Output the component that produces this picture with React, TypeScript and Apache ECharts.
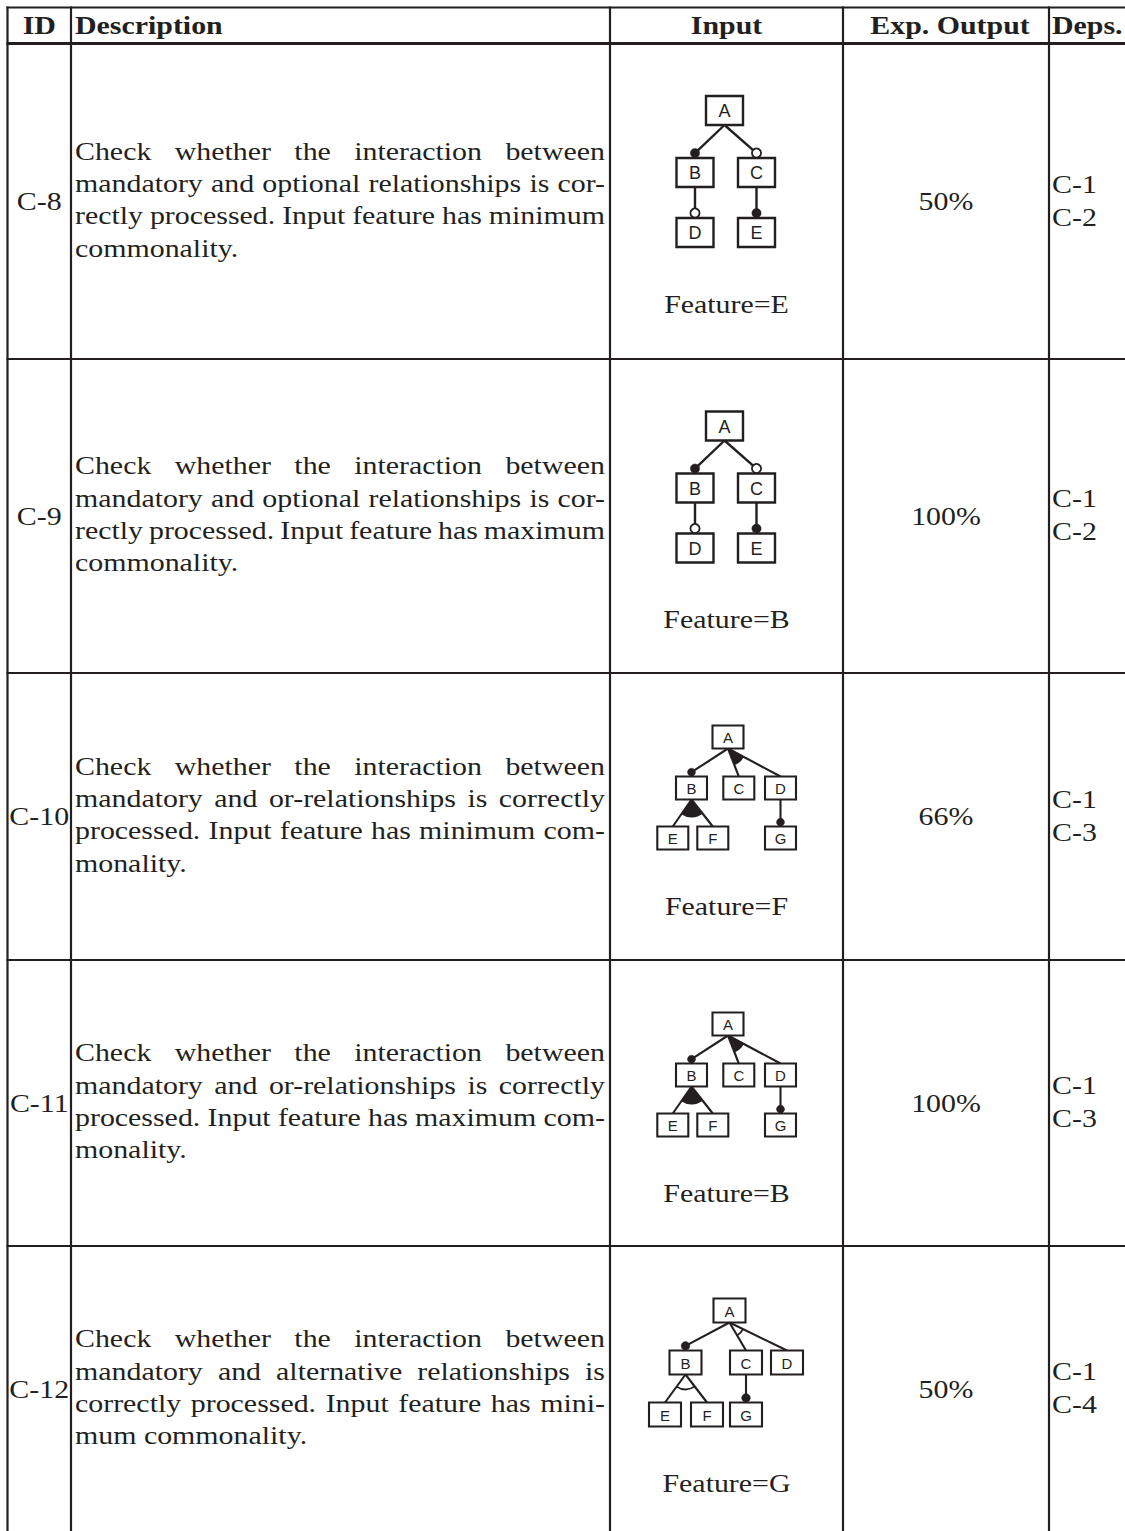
import React, { useEffect, useRef } from "react";
import * as echarts from "echarts";

// ---------- data ----------
const headers = ["ID", "Description", "Input", "Exp. Output", "Deps."];
const ids = ["C-8", "C-9", "C-10", "C-11", "C-12"];
const descriptions: string[][] = [
  [
    "Check whether the interaction between",
    "mandatory and optional relationships is cor-",
    "rectly processed. Input feature has minimum",
    "commonality.",
  ],
  [
    "Check whether the interaction between",
    "mandatory and optional relationships is cor-",
    "rectly processed. Input feature has maximum",
    "commonality.",
  ],
  [
    "Check whether the interaction between",
    "mandatory and or-relationships is correctly",
    "processed. Input feature has minimum com-",
    "monality.",
  ],
  [
    "Check whether the interaction between",
    "mandatory and or-relationships is correctly",
    "processed. Input feature has maximum com-",
    "monality.",
  ],
  [
    "Check whether the interaction between",
    "mandatory and alternative relationships is",
    "correctly processed. Input feature has mini-",
    "mum commonality.",
  ],
];
const inputFeatures = ["E", "B", "F", "B", "G"];
const expOutputs = ["50%", "100%", "66%", "100%", "50%"];
const dependencies: string[][] = [
  ["C-1", "C-2"],
  ["C-1", "C-2"],
  ["C-1", "C-3"],
  ["C-1", "C-3"],
  ["C-1", "C-4"],
];

type Rel = "root" | "mandatory" | "optional" | "or" | "alt";
type FNode = { name: string; parent: string | null; rel: Rel };

const modelMandatoryOptional: FNode[] = [
  { name: "A", parent: null, rel: "root" },
  { name: "B", parent: "A", rel: "mandatory" },
  { name: "C", parent: "A", rel: "optional" },
  { name: "D", parent: "B", rel: "optional" },
  { name: "E", parent: "C", rel: "mandatory" },
];
const modelMandatoryOr: FNode[] = [
  { name: "A", parent: null, rel: "root" },
  { name: "B", parent: "A", rel: "mandatory" },
  { name: "C", parent: "A", rel: "or" },
  { name: "D", parent: "A", rel: "or" },
  { name: "E", parent: "B", rel: "or" },
  { name: "F", parent: "B", rel: "or" },
  { name: "G", parent: "D", rel: "mandatory" },
];
const modelMandatoryAlt: FNode[] = [
  { name: "A", parent: null, rel: "root" },
  { name: "B", parent: "A", rel: "mandatory" },
  { name: "C", parent: "A", rel: "alt" },
  { name: "D", parent: "A", rel: "alt" },
  { name: "E", parent: "B", rel: "alt" },
  { name: "F", parent: "B", rel: "alt" },
  { name: "G", parent: "C", rel: "mandatory" },
];
const rowModels = [
  modelMandatoryOptional,
  modelMandatoryOptional,
  modelMandatoryOr,
  modelMandatoryOr,
  modelMandatoryAlt,
];

// ---------- layout (positions / sizes / styles) ----------
type DiagramLayout = {
  w: number;
  h: number;
  levels: number[];
  font: number;
  lw: number;
  dot: number;
  groupR: number;
  x: Record<string, number>;
};
const layoutMO: DiagramLayout = {
  w: 37, h: 29, levels: [0, 62, 122], font: 18, lw: 2.4, dot: 4.6, groupR: 15,
  x: { A: -2, B: -31.5, C: 30, D: -31.5, E: 30 },
};
const layoutOr: DiagramLayout = {
  w: 31, h: 23, levels: [0, 51, 101], font: 15, lw: 2.1, dot: 4, groupR: 18,
  x: { A: 1.5, B: -35, C: 12.3, D: 54, E: -53.7, F: -13.7, G: 54 },
};
const layoutAlt: DiagramLayout = {
  w: 32, h: 24, levels: [0, 52, 104], font: 15, lw: 2.1, dot: 4.3, groupR: 15,
  x: { A: 3, B: -41, C: 19.5, D: 60.5, E: -61.5, F: -19.5, G: 19.5 },
};
const rowLayouts = [layoutMO, layoutMO, layoutOr, layoutOr, layoutAlt];

const SERIF = '"Liberation Serif", "Times New Roman", serif';
const SANS = '"Liberation Sans", Arial, sans-serif';
const INK = "#231f20";
const SX = 1.15;
const FS = 26;
const LINE_GAP = 32.3;

const COLS = [7.5, 71, 610, 843, 1049];
const ROW_TOPS = [43.5, 359, 673, 960, 1246];
const TABLE_TOP = 7.5;
const PAGE_BOTTOM = 1532;
const TEXT_LEFT = 75;
const TEXT_RIGHT = 605;

function serifText(text: string, x: number, y: number, align: string, bold = false): any {
  return {
    type: "text",
    x,
    y,
    scaleX: SX,
    silent: true,
    style: {
      text,
      x: 0,
      y: 0,
      fill: INK,
      fontSize: FS,
      fontFamily: SERIF,
      fontWeight: bold ? "bold" : "normal",
      align,
      verticalAlign: "middle",
    },
  };
}

function depthOf(model: FNode[], name: string): number {
  let d = 0;
  let n = model.find((m) => m.name === name);
  while (n && n.parent) {
    d++;
    n = model.find((m) => m.name === n!.parent);
  }
  return d;
}

function buildDiagram(model: FNode[], L: DiagramLayout, cx0: number, top: number): any[] {
  const lines: any[] = [];
  const marks: any[] = [];
  const boxes: any[] = [];
  const pos: Record<string, { cx: number; top: number }> = {};
  model.forEach((n) => {
    pos[n.name] = { cx: cx0 + L.x[n.name], top: top + L.levels[depthOf(model, n.name)] };
  });
  // edges
  model.forEach((n) => {
    if (!n.parent) return;
    const p = pos[n.parent];
    const c = pos[n.name];
    const px = p.cx;
    const py = p.top + L.h;
    if (n.rel === "mandatory" || n.rel === "optional") {
      const cy = c.top - L.dot - 0.3;
      lines.push({
        type: "line",
        shape: { x1: px, y1: py, x2: c.cx, y2: cy },
        style: { stroke: INK, lineWidth: L.lw },
      });
      marks.push({
        type: "circle",
        shape: { cx: c.cx, cy, r: L.dot },
        style:
          n.rel === "mandatory"
            ? { fill: INK, stroke: INK, lineWidth: 0.5 }
            : { fill: "#fff", stroke: INK, lineWidth: 1.8 },
      });
    } else {
      lines.push({
        type: "line",
        shape: { x1: px, y1: py, x2: c.cx, y2: c.top },
        style: { stroke: INK, lineWidth: L.lw },
      });
    }
  });
  // groups (or / alternative)
  model.forEach((p) => {
    const kids = model.filter((k) => k.parent === p.name && (k.rel === "or" || k.rel === "alt"));
    if (kids.length < 2) return;
    const ox = pos[p.name].cx;
    const oy = pos[p.name].top + L.h;
    const angs = kids.map((k) => Math.atan2(pos[k.name].top - oy, pos[k.name].cx - ox));
    const a0 = Math.min(...angs);
    const a1 = Math.max(...angs);
    if (kids[0].rel === "or") {
      marks.push({
        type: "sector",
        shape: { cx: ox, cy: oy, r0: 0, r: L.groupR, startAngle: a0, endAngle: a1, clockwise: true },
        style: { fill: INK },
      });
    } else {
      marks.push({
        type: "arc",
        shape: { cx: ox, cy: oy, r: L.groupR, startAngle: a0, endAngle: a1, clockwise: true },
        style: { stroke: INK, fill: null, lineWidth: 1.8 },
      });
    }
  });
  // boxes
  model.forEach((n) => {
    const c = pos[n.name];
    boxes.push({
      type: "rect",
      shape: { x: c.cx - L.w / 2, y: c.top, width: L.w, height: L.h },
      style: { fill: "#fff", stroke: INK, lineWidth: L.lw },
    });
    boxes.push({
      type: "text",
      x: c.cx,
      y: c.top + L.h / 2 + 0.5,
      silent: true,
      style: {
        text: n.name,
        fill: INK,
        fontSize: L.font,
        fontFamily: SANS,
        align: "center",
        verticalAlign: "middle",
      },
    });
  });
  return [...lines, ...marks, ...boxes];
}

export default function App() {
  const ref = useRef<HTMLDivElement>(null);
  useEffect(() => {
    if (!ref.current) return;
    const chart = echarts.init(ref.current, undefined, { renderer: "svg" });
    const canvas = document.createElement("canvas");
    const ctx = canvas.getContext("2d")!;
    ctx.font = `${FS}px ${SERIF}`;
    const measure = (s: string) => ctx.measureText(s).width * SX;

    const els: any[] = [];
    els.push({ type: "rect", shape: { x: 0, y: 0, width: 1125, height: 1531 }, style: { fill: "#fff" } });

    // grid lines
    els.push({
      type: "line",
      shape: { x1: COLS[0] - 1, y1: TABLE_TOP, x2: 1130, y2: TABLE_TOP },
      style: { stroke: INK, lineWidth: 2 },
    });
    els.push({
      type: "line",
      shape: { x1: COLS[0] - 1, y1: ROW_TOPS[0], x2: 1130, y2: ROW_TOPS[0] },
      style: { stroke: INK, lineWidth: 3.2 },
    });
    ROW_TOPS.slice(1).forEach((y) =>
      els.push({
        type: "line",
        shape: { x1: COLS[0] - 1, y1: y, x2: 1130, y2: y },
        style: { stroke: INK, lineWidth: 2.2 },
      })
    );
    COLS.forEach((x) =>
      els.push({
        type: "line",
        shape: { x1: x, y1: TABLE_TOP - 1, x2: x, y2: PAGE_BOTTOM + 5 },
        style: { stroke: INK, lineWidth: 2.2 },
      })
    );

    // header
    const hy = 25;
    els.push(serifText(headers[0], (COLS[0] + COLS[1]) / 2, hy, "center", true));
    els.push(serifText(headers[1], TEXT_LEFT, hy, "left", true));
    els.push(serifText(headers[2], (COLS[2] + COLS[3]) / 2, hy, "center", true));
    els.push(serifText(headers[3], 950, hy, "center", true));
    els.push(serifText(headers[4], 1052, hy, "left", true));

    ids.forEach((id, i) => {
      const top = ROW_TOPS[i];
      const bottom = i + 1 < ROW_TOPS.length ? ROW_TOPS[i + 1] : PAGE_BOTTOM;
      const mid = (top + bottom) / 2 - 2;

      els.push(serifText(id, (COLS[0] + COLS[1]) / 2, mid + 2, "center"));

      const lines = descriptions[i];
      lines.forEach((ln, j) => {
        const y = mid + (j - (lines.length - 1) / 2) * LINE_GAP;
        const words = ln.split(" ");
        const justify = j < lines.length - 1 && words.length > 1;
        if (!justify) {
          els.push(serifText(ln, TEXT_LEFT, y, "left"));
          return;
        }
        const widths = words.map(measure);
        const sum = widths.reduce((a, b) => a + b, 0);
        const gap = (TEXT_RIGHT - TEXT_LEFT - sum) / (words.length - 1);
        let x = TEXT_LEFT;
        words.forEach((w, k) => {
          els.push(serifText(w, x, y, "left"));
          x += widths[k] + gap;
        });
      });

      // input diagram
      const L = rowLayouts[i];
      const dTop = top + 52.5;
      const cx0 = (COLS[2] + COLS[3]) / 2;
      els.push(...buildDiagram(rowModels[i], L, cx0, dTop));
      const dBottom = dTop + L.levels[L.levels.length - 1] + L.h;
      els.push(serifText("Feature=" + inputFeatures[i], cx0, dBottom + 57, "center"));

      els.push(serifText(expOutputs[i], (COLS[3] + COLS[4]) / 2, mid + 2, "center"));
      dependencies[i].forEach((d, j) => {
        els.push(serifText(d, 1052, mid + 1 + (j - 0.5) * 33, "left"));
      });
    });

    chart.setOption({ animation: false, graphic: { elements: els } });
    return () => chart.dispose();
  }, []);
  return (
    <div
      ref={ref}
      style={{ position: "absolute", left: 0, top: 0, width: 1125, height: 1531, background: "#fff" }}
    />
  );
}
